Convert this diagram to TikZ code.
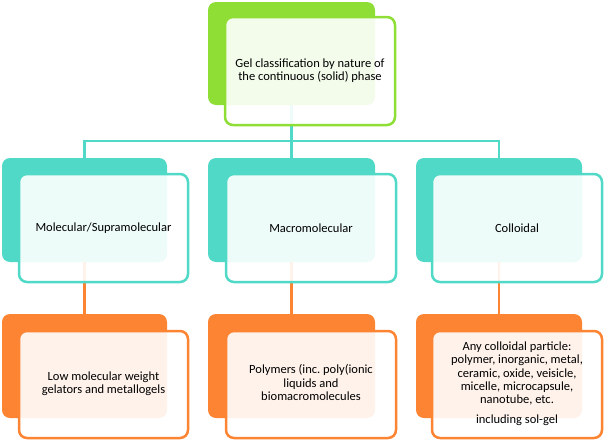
\documentclass[tikz,border=0pt]{standalone}
\usepackage{fontspec}
\setmainfont{Carlito}
\frenchspacing
\definecolor{cgreen}{HTML}{8EDE36}
\definecolor{cteal}{HTML}{50D9C6}
\definecolor{corange}{HTML}{FC8433}
\newcommand{\boxlines}[1]{\begin{tabular}{@{}c@{}}#1\end{tabular}}
\begin{document}
\begin{tikzpicture}[x=1pt,y=-1pt,
  backbox/.style={rectangle, rounded corners=8pt, inner sep=0pt, draw=none},
  frontbox/.style={rectangle, rounded corners=8pt, inner sep=0pt, line width=2.5pt,
    fill=white, fill opacity=0.9, text opacity=1,
    font=\fontsize{12.5}{13.3}\selectfont},
  conn/.style={line width=2.5pt}]
\useasboundingbox (0,0) rectangle (605,442);
% back boxes
\node[backbox, fill=cgreen, minimum width=167pt, minimum height=103pt] (tb) at (291.5,53.5) {};
\node[backbox, fill=cteal, minimum width=165pt, minimum height=104pt] (mb1) at (84.5,210) {};
\node[backbox, fill=cteal, minimum width=167pt, minimum height=104pt] (mb2) at (291.5,210) {};
\node[backbox, fill=cteal, minimum width=166pt, minimum height=104pt] (mb3) at (499,210) {};
\node[backbox, fill=corange, minimum width=165pt, minimum height=104pt] (lb1) at (84.5,366) {};
\node[backbox, fill=corange, minimum width=167pt, minimum height=104pt] (lb2) at (291.5,366) {};
\node[backbox, fill=corange, minimum width=166pt, minimum height=104pt] (lb3) at (499,366) {};
% connectors
\coordinate (j) at (291.5,141);
\draw[conn, cteal] (tb.south) -- (j);
\draw[conn, cteal] (mb1.north) |- (j) -| (mb3.north);
\draw[conn, cteal] (j) -- (mb2.north);
\draw[conn, corange] (mb1.south) -- (lb1.north);
\draw[conn, corange] (mb2.south) -- (lb2.north);
\draw[conn, corange] (mb3.south) -- (lb3.north);
% front boxes
\node[frontbox, draw=cgreen, minimum width=170pt, minimum height=108pt] (tf) at (310,71)
  {\boxlines{Gel classification by nature of\\the continuous (solid) phase}};
\node[frontbox, draw=cteal, minimum width=169pt, minimum height=108pt] (mf1) at (103.5,228)
  {Molecular/Supramolecular};
\node[frontbox, draw=cteal, minimum width=170pt, minimum height=108pt] (mf2) at (311,228)
  {Macromolecular};
\node[frontbox, draw=cteal, minimum width=170pt, minimum height=108pt] (mf3) at (517,228)
  {Colloidal};
\node[frontbox, draw=corange, minimum width=169pt, minimum height=107pt] (lf1) at (103.5,384.5)
  {\boxlines{Low molecular weight\\gelators and metallogels}};
\node[frontbox, draw=corange, minimum width=170pt, minimum height=107pt] (lf2) at (311,384.5)
  {\boxlines{Polymers (inc. poly(ionic\\liquids and\\biomacromolecules}};
\node[frontbox, draw=corange, minimum width=170pt, minimum height=107pt] (lf3) at (517,384.5)
  {\boxlines{Any colloidal particle:\\polymer, inorganic, metal,\\ceramic, oxide, veisicle,\\micelle, microcapsule,\\nanotube, etc.\\[7pt]including sol-gel}};
\end{tikzpicture}
\end{document}
